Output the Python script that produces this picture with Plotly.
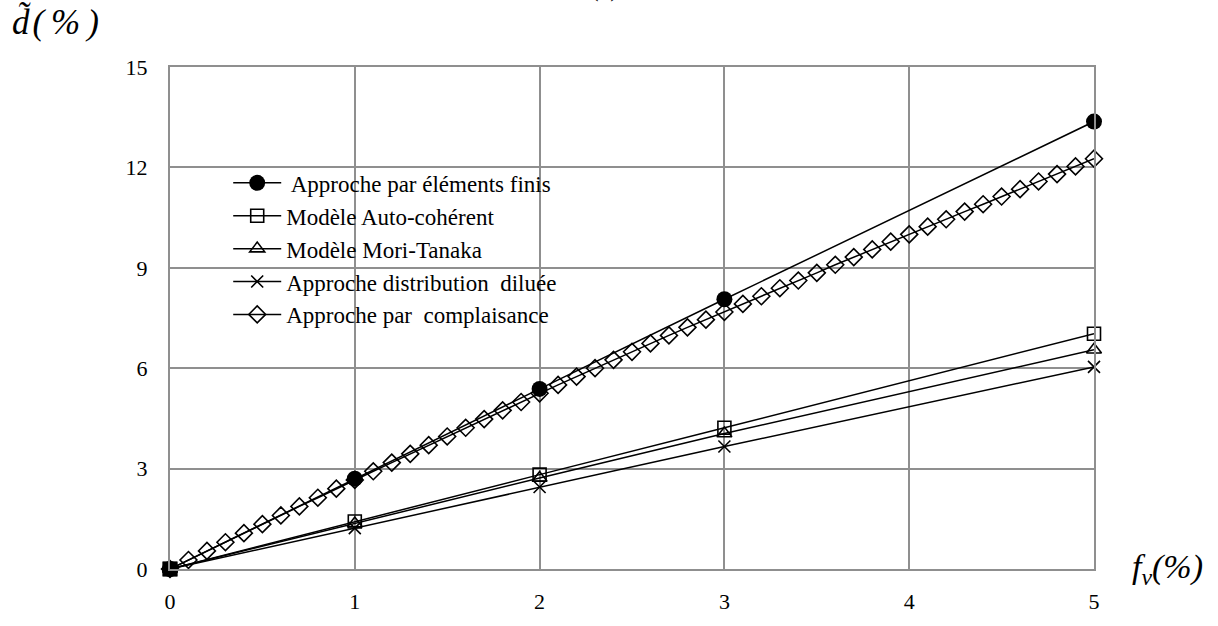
import plotly.graph_objects as go

x_pts = [0, 1, 2, 3, 5]
fem = [0, 2.70, 5.38, 8.06, 13.37]
auto_coh = [0, 1.42, 2.82, 4.22, 7.03]
mori_tanaka = [0, 1.36, 2.72, 4.05, 6.55]
dilute = [0, 1.22, 2.45, 3.66, 6.04]

x_comp = [round(i * 0.1, 1) for i in range(51)]
compliance = [0.00, 0.27, 0.54, 0.80, 1.07, 1.34, 1.60, 1.87, 2.13, 2.40,
              2.66, 2.92, 3.18, 3.44, 3.70, 3.96, 4.22, 4.48, 4.74, 4.99,
              5.25, 5.50, 5.75, 6.00, 6.25, 6.49, 6.74, 6.98, 7.22, 7.45,
              7.68, 7.92, 8.15, 8.39, 8.62, 8.85, 9.09, 9.32, 9.55, 9.78,
              10.00, 10.23, 10.45, 10.68, 10.90, 11.13, 11.35, 11.58, 11.80, 12.03,
              12.26]

names = [" Approche par éléments finis", "Modèle Auto-cohérent", "Modèle Mori-Tanaka",
         "Approche distribution  diluée", "Approche par  complaisance"]
x_ticks = [0, 1, 2, 3, 4, 5]
y_ticks = [0, 3, 6, 9, 12, 15]

SERIF = "Liberation Serif, Times New Roman, serif"
line = dict(color="black", width=1.5)

fig = go.Figure()
fig.add_trace(go.Scatter(x=x_pts, y=fem, name=names[0], mode="lines+markers", line=line,
                         marker=dict(symbol="circle", size=16, color="black")))
fig.add_trace(go.Scatter(x=x_pts, y=auto_coh, name=names[1], mode="lines+markers", line=line,
                         marker=dict(symbol="square-open", size=13, color="black",
                                     line=dict(width=1.6))))
fig.add_trace(go.Scatter(x=x_pts, y=mori_tanaka, name=names[2], mode="lines+markers", line=line,
                         marker=dict(symbol="triangle-up-open", size=13, color="black",
                                     line=dict(width=1.6))))
fig.add_trace(go.Scatter(x=x_pts, y=dilute, name=names[3], mode="lines+markers", line=line,
                         marker=dict(symbol="x-thin", size=12, color="black",
                                     line=dict(width=1.6, color="black"))))
fig.add_trace(go.Scatter(x=x_comp, y=compliance, name=names[4], mode="lines+markers", line=line,
                         marker=dict(symbol="diamond-open", size=13, color="black",
                                     line=dict(width=1.6))))
# filled square at origin
fig.add_trace(go.Scatter(x=x_pts[:1], y=auto_coh[:1], mode="markers", showlegend=False,
                         marker=dict(symbol="square", size=15, color="black")))
fig.update_traces(cliponaxis=False)

fig.update_layout(
    width=1218, height=626,
    paper_bgcolor="white", plot_bgcolor="white",
    margin=dict(l=170, r=124, t=67, b=45),
    font=dict(family=SERIF, size=22, color="black"),
    legend=dict(x=0.063, y=0.812, xanchor="left", yanchor="top",
                bgcolor="rgba(0,0,0,0)", font=dict(family=SERIF, size=23),
                itemwidth=48, tracegroupgap=0),
    xaxis=dict(range=[0, 5], tickvals=x_ticks, showgrid=True, gridcolor="#8f8f8f", gridwidth=2,
               showline=True, linecolor="#8f8f8f", linewidth=2, mirror=True,
               zeroline=False, ticks="", ticklabelstandoff=12),
    yaxis=dict(range=[0, 15], tickvals=y_ticks, showgrid=True, gridcolor="#8f8f8f", gridwidth=2,
               showline=True, linecolor="#8f8f8f", linewidth=2, mirror=True,
               zeroline=False, ticks="", ticklabelstandoff=16),
    annotations=[
        dict(text="<i>d̃\u200a(\u2009%\u2009)</i>", xref="paper", yref="paper", x=-0.173, y=1.09,
             xanchor="left", yanchor="middle", showarrow=False,
             font=dict(family=SERIF, size=35)),
        dict(text="<i>f<sub>v</sub>(%)</i>", xref="paper", yref="paper", x=1.039, y=0.0,
             xanchor="left", yanchor="middle", showarrow=False,
             font=dict(family=SERIF, size=34)),
        dict(text="(a)", xref="paper", yref="paper", x=0.47, y=1.125,
             xanchor="center", yanchor="bottom", showarrow=False,
             font=dict(family=SERIF, size=26)),
    ],
)

fig.write_html("out.html")
